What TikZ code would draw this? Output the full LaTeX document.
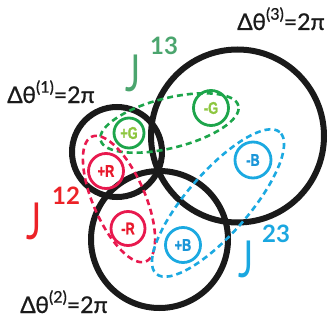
\documentclass[tikz,border=0pt]{standalone}
\usepackage{fontspec}
\setmainfont{Lato}
\newfontfamily\lblfont{Liberation Sans}[BoldFeatures={FakeBold=1.5}]
\newfontfamily\dthfont{Lato}[FakeBold=0.8]
\definecolor{blk}{HTML}{1A1A1A}
\definecolor{gcirc}{HTML}{1DA54B}
\definecolor{gtxt}{HTML}{8DC63F}
\definecolor{gJ}{HTML}{4BA56E}
\definecolor{rcirc}{HTML}{E8194E}
\definecolor{rtxt}{HTML}{E8192C}
\definecolor{rJ}{HTML}{EC2227}
\definecolor{bcirc}{HTML}{1BA9E1}
\definecolor{btxt}{HTML}{1B96D8}
\definecolor{bJ}{HTML}{1AA7E0}
\newcommand{\lbltext}[1]{\scalebox{0.75}[1]{\lblfont\bfseries\fontsize{17}{17}\selectfont #1}}
\newcommand{\Jtext}{\scalebox{0.7}[1]{J}}
\begin{document}
\begin{tikzpicture}[x=1pt,y=-1pt,
  bigc/.style={circle,draw=blk,line width=6pt,inner sep=0pt,minimum size=#1},
  smc/.style={circle,line width=2.8pt,inner sep=0pt,minimum size=#1},
  loop/.style={line width=2.6pt,dash pattern=on 6pt off 4pt},
  lbl/.style={inner sep=0pt},
  dth/.style={font=\dthfont\fontsize{23}{23}\selectfont,text=blk,anchor=base west,inner sep=0pt},
  bigJ/.style={font=\fontsize{51}{51}\selectfont,anchor=base west,inner sep=0pt},
  supJ/.style={font=\bfseries\fontsize{24}{24}\selectfont,anchor=base west,inner sep=0pt}]
\useasboundingbox (0,0) rectangle (329,329);
% black circles
\node[bigc=90pt] (c1) at (117,152) {};
\node[bigc=173pt] (c3) at (237.5,136) {};
\node[bigc=137pt] (c2) at (159.5,239.5) {};
% dashed loops
\draw[loop,draw=gcirc,shift={(169.5,123)},rotate=14] (0,0) ellipse [x radius=71pt,y radius=25pt];
\draw[loop,draw=rcirc,shift={(119,199)},rotate=-66.5] (0,0) ellipse [x radius=68pt,y radius=26pt];
\draw[loop,draw=bcirc,shift={(218,203)},rotate=48.9] (0,0) ellipse [x radius=94pt,y radius=31pt];
% small circles
\node[smc=30pt,draw=gcirc] (pG) at (129,133) {};
\node[lbl,text=gtxt] at (pG) {\lbltext{+G}};
\node[smc=35pt,draw=gcirc] (mG) at (211,108) {};
\node[lbl,text=gtxt] at (mG) {\lbltext{-G}};
\node[smc=35pt,draw=rcirc] (pR) at (106,171) {};
\node[lbl,text=rtxt] at (pR) {\lbltext{+R}};
\node[smc=34pt,draw=rcirc] (mR) at (128,228.5) {};
\node[lbl,text=rtxt] at (mR) {\lbltext{-R}};
\node[smc=35pt,draw=bcirc] (pB) at (183,245) {};
\node[lbl,text=btxt] at (pB) {\lbltext{+B}};
\node[smc=36pt,draw=bcirc] (mB) at (253,160) {};
\node[lbl,text=btxt] at (mB) {\lbltext{-B}};
% labels
\node[dth] (t1) at (7,103) {Δθ\raisebox{0.45em}{\fontsize{16}{16}\selectfont(1)}=2π};
\node[dth] (t2) at (20,313) {Δθ\raisebox{0.45em}{\fontsize{16}{16}\selectfont(2)}=2π};
\node[dth] (t3) at (237,30) {Δθ\raisebox{0.45em}{\fontsize{16}{16}\selectfont(3)}=2π};
\node[bigJ,text=gJ] (J13) at (125,92) {\Jtext};
\node[supJ,text=gJ] (s13) at (150,55) {13};
\node[bigJ,text=rJ] (J12) at (26,239) {\Jtext};
\node[supJ,text=rJ] (s12) at (52,204) {12};
\node[bigJ,text=bJ] (J23) at (238,277) {\Jtext};
\node[supJ,text=bJ] (s23) at (262,242) {23};
\end{tikzpicture}
\end{document}
